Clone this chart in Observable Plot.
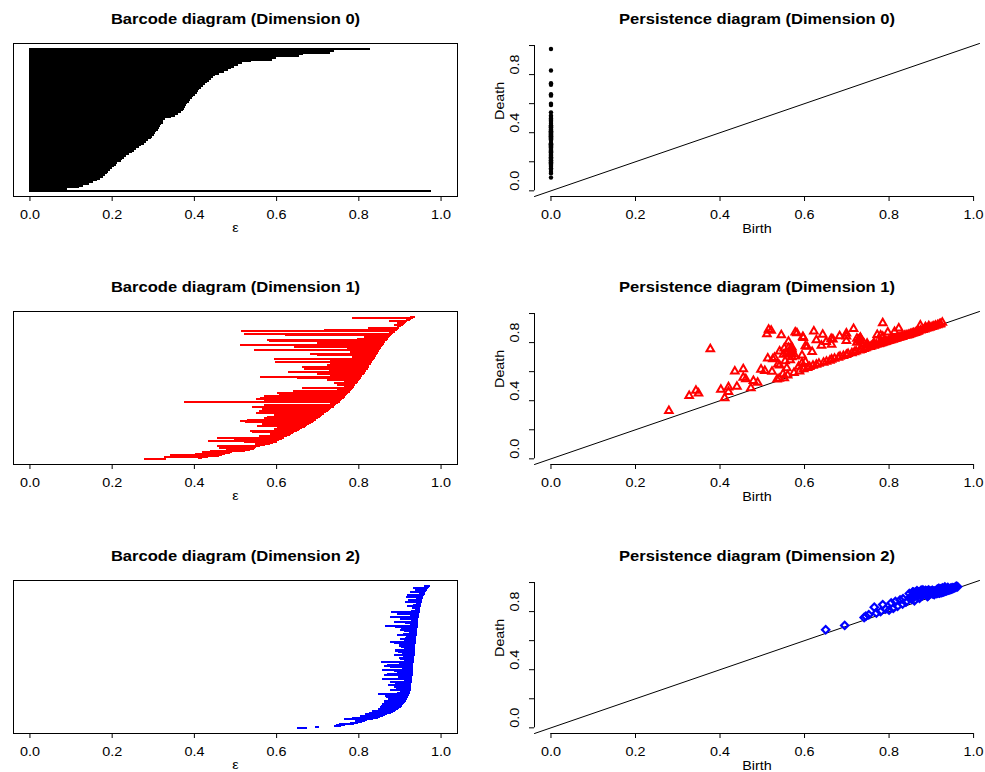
<!DOCTYPE html>
<html>
<head>
<meta charset="utf-8">
<script src="https://cdn.jsdelivr.net/npm/d3@7"></script>
<script src="https://cdn.jsdelivr.net/npm/@observablehq/plot@0.6"></script>
<style>
html,body{margin:0;padding:0;background:#fff;}
body{width:985px;height:772px;position:relative;overflow:hidden;font-family:"Liberation Sans",Arial,sans-serif;}
.panel{position:absolute;}
.panel svg{display:block;}
</style>
</head>
<body>
<script>
// ---------------- data ----------------
const xTicks = [0, 0.2, 0.4, 0.6, 0.8, 1.0];
const yTickLabels = [0, 0.4, 0.8];
const barLim = [-0.04, 1.04];
const diagLim = [-0.039, 1.014];
const rowTops = [0, 268, 537];
const titlesBar = ["Barcode diagram (Dimension 0)", "Barcode diagram (Dimension 1)", "Barcode diagram (Dimension 2)"];
const titlesDiag = ["Persistence diagram (Dimension 0)", "Persistence diagram (Dimension 1)", "Persistence diagram (Dimension 2)"];

// Dimension 0: all births are 0; deaths in barcode order (first = longest bar)
const dim0Birth = 0;
const dim0Deaths = [0.976, 0.091, 0.120, 0.130, 0.145, 0.155, 0.165, 0.172, 0.179, 0.184,
  0.188, 0.192, 0.197, 0.201, 0.205, 0.210, 0.214, 0.222, 0.226, 0.231,
  0.235, 0.243, 0.249, 0.254, 0.260, 0.266, 0.272, 0.278, 0.283, 0.289,
  0.295, 0.299, 0.302, 0.305, 0.309, 0.312, 0.315, 0.318, 0.321, 0.324,
  0.326, 0.330, 0.345, 0.355, 0.362, 0.368, 0.373, 0.376, 0.378, 0.381,
  0.384, 0.387, 0.391, 0.395, 0.398, 0.403, 0.408, 0.410, 0.413, 0.418,
  0.421, 0.426, 0.432, 0.437, 0.442, 0.447, 0.452, 0.462, 0.474, 0.483,
  0.490, 0.497, 0.508, 0.518, 0.540, 0.590, 0.600, 0.655, 0.665, 0.730,
  0.740, 0.828];

// Dimension 1: [birth, death]
const dim1Long = [[0.785,0.934],[0.874,0.918],[0.894,0.914],[0.886,0.906],[0.823,0.898],[0.716,0.894],
  [0.515,0.890],[0.521,0.882],[0.622,0.878],[0.813,0.874],[0.797,0.871],[0.578,0.870],[0.582,0.866],
  [0.699,0.863],[0.511,0.859],[0.643,0.855],[0.772,0.853],[0.545,0.851],[0.780,0.849],[0.683,0.845],
  [0.699,0.844],[0.785,0.841],[0.596,0.839],[0.732,0.835],[0.597,0.833],[0.732,0.831],[0.724,0.827],
  [0.663,0.825],[0.667,0.823],[0.728,0.819],[0.628,0.817],[0.699,0.813],[0.732,0.810],[0.562,0.807],
  [0.651,0.805],[0.724,0.801],[0.764,0.799],[0.740,0.797],[0.748,0.793],[0.764,0.790],[0.664,0.787],
  [0.748,0.784],[0.640,0.780],[0.602,0.776],[0.606,0.772],[0.570,0.768],[0.377,0.755],[0.562,0.764],
  [0.552,0.761],[0.570,0.756],[0.566,0.752],[0.570,0.744],[0.541,0.740],[0.618,0.736],[0.566,0.732],
  [0.558,0.727],[0.570,0.722],[0.550,0.717],[0.594,0.712],[0.578,0.706],[0.570,0.701],[0.529,0.696],
  [0.513,0.691],[0.525,0.686],[0.566,0.680],[0.554,0.673],[0.602,0.667],[0.594,0.659],[0.537,0.651],
  [0.541,0.643],[0.586,0.635],[0.558,0.625]];
const dim1Low = [[0.279,0.331],[0.411,0.419],[0.327,0.434],[0.349,0.451],[0.420,0.462],[0.343,0.469],
  [0.402,0.476],[0.473,0.487],[0.420,0.493],[0.440,0.497],[0.489,0.525],[0.479,0.537],[0.535,0.547],
  [0.461,0.549],[0.552,0.556],[0.455,0.560],[0.549,0.584],[0.523,0.601],[0.435,0.602],[0.506,0.606],
  [0.497,0.615],[0.455,0.618]];
const dim1Short = [[0.540,0.552],[0.560,0.574],[0.575,0.592],[0.588,0.603],[0.598,0.618],[0.607,0.626],
  [0.612,0.633],[0.620,0.641],[0.628,0.648],[0.634,0.656],[0.645,0.662],[0.652,0.670],[0.660,0.676],
  [0.664,0.684],[0.671,0.690],[0.680,0.697],[0.684,0.703],[0.692,0.709],[0.699,0.716],[0.703,0.722],
  [0.712,0.728],[0.718,0.734],[0.722,0.740],[0.730,0.746],[0.735,0.751],[0.741,0.757],[0.745,0.762],
  [0.748,0.767],[0.755,0.771],[0.758,0.775],[0.764,0.779],[0.766,0.783],[0.770,0.786],[0.776,0.790],
  [0.779,0.793],[0.783,0.796],[0.786,0.800],[0.790,0.803],[0.792,0.806],[0.795,0.809],[0.799,0.812],
  [0.802,0.815],[0.805,0.818],[0.809,0.821],[0.811,0.824],[0.815,0.826],[0.818,0.829],[0.820,0.832],
  [0.823,0.834],[0.826,0.837],[0.830,0.840],[0.832,0.842],[0.836,0.846],[0.838,0.848],[0.842,0.850],
  [0.845,0.852],[0.847,0.854],[0.850,0.857],[0.852,0.860],[0.855,0.862],[0.858,0.865],[0.862,0.868],
  [0.865,0.872],[0.868,0.876],[0.870,0.880],[0.875,0.884],[0.880,0.888],[0.884,0.891],[0.888,0.896],
  [0.893,0.900],[0.897,0.904],[0.902,0.909],[0.906,0.912],[0.910,0.917],[0.915,0.921],[0.919,0.925],
  [0.922,0.928],[0.926,0.937]];

// Dimension 2: [birth, death]
const dim2Tail = [[0.650,0.675],[0.695,0.705],[0.741,0.759],[0.745,0.768],[0.752,0.778],[0.770,0.790],
  [0.780,0.800],[0.800,0.810],[0.792,0.817],[0.810,0.822],[0.765,0.830],[0.820,0.836]];
const dim2Long = [[0.785,0.848],[0.805,0.860],[0.815,0.870],[0.826,0.880],[0.833,0.888],[0.849,0.896],
  [0.852,0.900],[0.855,0.906],[0.857,0.909],[0.863,0.912],[0.862,0.915],[0.871,0.918],[0.868,0.920],
  [0.866,0.922],[0.848,0.924],[0.894,0.925],[0.878,0.927],[0.886,0.928],[0.871,0.929],[0.878,0.930],
  [0.857,0.931],[0.862,0.932],[0.870,0.932],[0.886,0.933],[0.857,0.933],[0.878,0.934],[0.862,0.934],
  [0.870,0.934],[0.856,0.935],[0.898,0.936],[0.886,0.937],[0.906,0.937],[0.890,0.938],[0.890,0.938],
  [0.898,0.939],[0.886,0.940],[0.876,0.940],[0.902,0.941],[0.914,0.941],[0.894,0.942],[0.909,0.942],
  [0.902,0.943],[0.890,0.944],[0.866,0.944],[0.886,0.945],[0.902,0.946],[0.876,0.947],[0.894,0.948],
  [0.880,0.949],[0.918,0.952],[0.914,0.954],[0.922,0.956],[0.917,0.958],[0.918,0.960],[0.926,0.963],
  [0.939,0.966],[0.932,0.969],[0.959,0.975]];
const dim2ShortLow = [[0.832,0.852],[0.840,0.865],[0.860,0.875],[0.854,0.884],[0.872,0.892],[0.873,0.898],
  [0.891,0.903],[0.877,0.907],[0.893,0.911],[0.892,0.914],[0.907,0.917],[0.891,0.919],[0.906,0.921],
  [0.903,0.923]];
const dim2ShortMid = [[0.913,0.925],[0.901,0.926],[0.908,0.926],[0.892,0.927],[0.919,0.927],[0.906,0.928],
  [0.898,0.928],[0.914,0.929],[0.889,0.929],[0.910,0.930],[0.920,0.930],[0.903,0.930],[0.918,0.931],
  [0.896,0.931],[0.924,0.931],[0.909,0.932],[0.917,0.932],[0.893,0.932],[0.921,0.933],[0.905,0.933],
  [0.913,0.933],[0.926,0.934],[0.899,0.934],[0.916,0.934],[0.911,0.935],[0.927,0.935],[0.902,0.935],
  [0.920,0.936],[0.908,0.936],[0.928,0.936],[0.915,0.937],[0.897,0.937],[0.925,0.937],[0.912,0.938],
  [0.930,0.938],[0.904,0.938],[0.919,0.939],[0.927,0.939],[0.900,0.939],[0.922,0.940],[0.910,0.940],
  [0.931,0.940],[0.916,0.941],[0.928,0.941],[0.906,0.941],[0.924,0.942],[0.933,0.942],[0.912,0.942],
  [0.920,0.943],[0.930,0.943],[0.903,0.943],[0.926,0.944],[0.935,0.944],[0.914,0.944],[0.921,0.944]];
const dim2ShortHigh = [[0.929,0.945],[0.936,0.945],[0.918,0.946],[0.931,0.946],[0.938,0.947],[0.925,0.947],
  [0.934,0.948],[0.940,0.948],[0.928,0.949],[0.937,0.949],[0.942,0.950],[0.930,0.950],[0.939,0.951],
  [0.944,0.951],[0.933,0.952],[0.941,0.953],[0.946,0.953],[0.936,0.954],[0.944,0.955],[0.948,0.956],
  [0.940,0.957],[0.950,0.958],[0.945,0.959],[0.952,0.961],[0.947,0.962],[0.955,0.964],[0.951,0.965],
  [0.958,0.967],[0.962,0.971]];

// ---------------- build ----------------
const fmt = d3.format(".1f");
const STYLE = {fontFamily: '"Liberation Sans", Arial, Helvetica, sans-serif', fontSize: "12.5px", color: "black", background: "white"};

const dim0 = dim0Deaths.map((d, i) => ({birth: dim0Birth, death: d, index: i + 1}));
function toBars(pairs) {
  return d3.sort(pairs, p => p[1]).map((p, i) => ({birth: p[0], death: p[1], index: i + 1}));
}
const dim1 = toBars([...dim1Long, ...dim1Low, ...dim1Short]);
const dim2 = toBars([...dim2Tail, ...dim2Long, ...dim2ShortLow, ...dim2ShortMid, ...dim2ShortHigh]);

function barcodePanel(bars, color, title) {
  const n = bars.length, pad = 0.04 * (n - 1);
  return Plot.plot({
    width: 492, height: 268,
    marginLeft: 13, marginRight: 35, marginTop: 43, marginBottom: 72,
    style: STYLE,
    x: {domain: barLim},
    y: {domain: [1 - pad, n + pad], axis: null},
    marks: [
      Plot.ruleY(bars, {y: "index", x1: "birth", x2: "death", stroke: color, strokeWidth: 2, shapeRendering: "crispEdges"}),
      Plot.frame({stroke: "black"}),
      Plot.axisX({ticks: xTicks, tickSize: 5, tickPadding: 9, tickFormat: fmt, label: null}),
      Plot.text([title], {frameAnchor: "top", dy: -30, fontWeight: "bold", fontSize: 14.4, text: d => d}),
      Plot.text(["ε"], {frameAnchor: "bottom", dy: 35, text: d => d})
    ]
  });
}

function diagramPanel(bars, dotOpts, title) {
  return Plot.plot({
    width: 493, height: 268,
    marginLeft: 42, marginRight: 6, marginTop: 43, marginBottom: 72,
    style: STYLE,
    x: {domain: diagLim},
    y: {domain: diagLim},
    marks: [
      Plot.line(diagLim, {x: d => d, y: d => d, stroke: "black", strokeWidth: 1}),
      Plot.dot(bars, {x: "birth", y: "death", ...dotOpts}),
      Plot.ruleY([diagLim[0]], {x1: xTicks[0], x2: xTicks[xTicks.length - 1], stroke: "black"}),
      Plot.ruleX([diagLim[0]], {y1: xTicks[0], y2: xTicks[xTicks.length - 1], stroke: "black"}),
      Plot.axisX({ticks: xTicks, tickSize: 5, tickPadding: 9, tickFormat: fmt, label: null}),
      Plot.axisY({ticks: xTicks, tickSize: 5, tickFormat: () => "", label: null}),
      Plot.text(yTickLabels, {y: d => d, frameAnchor: "left", dx: -20, rotate: -90, text: d => fmt(d)}),
      Plot.text(["Death"], {frameAnchor: "left", dx: -35, rotate: -90, text: d => d}),
      Plot.text(["Birth"], {frameAnchor: "bottom", dy: 36, text: d => d}),
      Plot.text([title], {frameAnchor: "top", dy: -30, fontWeight: "bold", fontSize: 14.4, text: d => d})
    ]
  });
}

// R's text is set wider than Liberation Sans; stretch glyphs horizontally to match
function widenText(svg) {
  svg.querySelectorAll("text").forEach(t => {
    if (!t.textContent) return;
    const bold = t.getAttribute("font-weight") === "bold";
    const len = t.getComputedTextLength();
    if (len > 0) {
      t.setAttribute("textLength", (len * (bold ? 1.19 : 1.15)).toFixed(2));
      t.setAttribute("lengthAdjust", "spacingAndGlyphs");
    }
  });
}

const barSets = [dim0, dim1, dim2];
const colors = ["black", "red", "blue"];
const dotStyles = [
  {r: 2.2, fill: "black"},
  {symbol: "triangle2", r: 3.6, stroke: "red", strokeWidth: 2, fill: "none"},
  {symbol: "diamond2", r: 3.3, stroke: "blue", strokeWidth: 2.2, fill: "none"}
];

barSets.forEach((bars, k) => {
  const left = document.createElement("div");
  left.className = "panel";
  left.style.left = "0px";
  left.style.top = rowTops[k] + "px";
  const s1 = barcodePanel(bars, colors[k], titlesBar[k]);
  left.appendChild(s1);
  document.body.appendChild(left);
  widenText(s1);

  const right = document.createElement("div");
  right.className = "panel";
  right.style.left = "492px";
  right.style.top = rowTops[k] + "px";
  const s2 = diagramPanel(bars, dotStyles[k], titlesDiag[k]);
  right.appendChild(s2);
  document.body.appendChild(right);
  widenText(s2);
});
</script>
</body>
</html>
